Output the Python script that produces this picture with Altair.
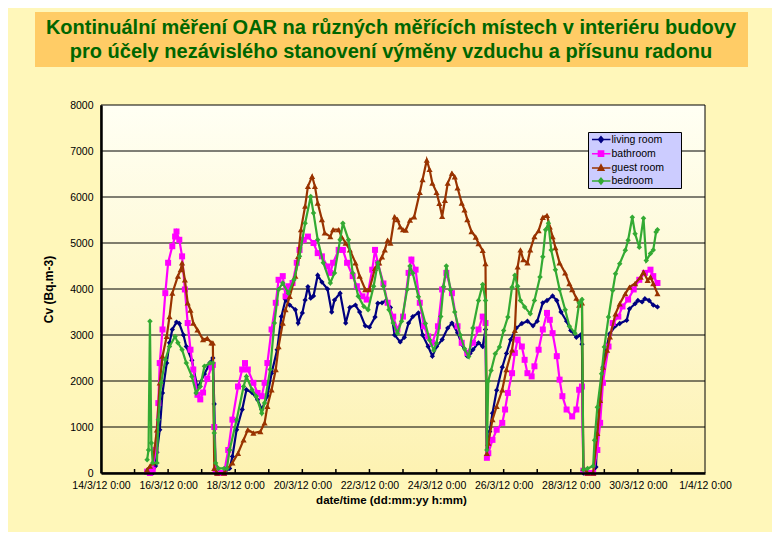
import altair as alt
import pandas as pd

# ---------------- data ----------------
series_names = ["living room", "bathroom", "guest room", "bedroom"]
series_colors = ["#000080", "#FF00FF", "#993300", "#33AA33"]
marker_shapes = ["diamond", "square", "triangle-up", "diamond"]
marker_sizes = [28, 36, 38, 30]

# (hours since 14/3/12 0:00, Cv in Bq.m-3)
living_room = [(33,50),(34,80),(35,0),(37,0),(39,150),(40,450),(42,940),(44,1740),(47,2390),(49,2830),(51,3120),(54,3280),(56,3250),(59,3000),(61,2750),(65,2450),(69,1850),(74,2150),(78,2400),(80,2500),(81,1500),(82,0),(84,0),(88,0),(92,100),(94,360),(97,940),(101,1380),(104,1810),(108,1750),(112,1590),(115,1380),(119,1670),(122,2170),(126,2680),(129,3400),(132,3770),(135,3650),(139,3550),(141,3260),(144,3480),(146,3760),(148,4050),(150,3800),(152,3850),(155,4300),(158,4150),(162,4000),(165,3500),(167,3760),(171,3910),(175,3260),(178,3600),(182,3650),(185,3500),(189,3200),(192,3170),(196,3390),(198,3690),(201,3700),(204,3750),(207,3600),(210,3000),(214,2850),(217,2950),(220,3260),(223,3400),(227,3480),(230,3000),(234,2750),(237,2540),(240,2750),(244,2900),(248,3150),(251,3260),(255,3050),(258,2800),(262,2540),(264,2600),(266,2680),(270,2830),(273,2750),(275,3120),(276,360),(278,900),(280,1300),(283,1800),(287,2300),(290,2600),(293,2900),(297,3150),(301,3250),(305,3300),(309,3200),(312,3300),(316,3700),(319,3750),(323,3850),(326,3750),(329,3500),(333,3300),(336,3100),(340,2950),(343,3000),(344,2800),(345,0),(348,0),(352,0),(354,130),(355,850),(357,1580),(359,2300),(361,2670),(364,3030),(368,3200),(371,3250),(376,3320),(378,3570),(382,3680),(384,3750),(387,3720),(389,3790),(392,3750),(395,3650),(398,3610)]

bathroom = [(33,30),(35,0),(37,70),(39,500),(41,1520),(42,2390),(44,3120),(46,3910),(48,4570),(51,4930),(53,5140),(54,5250),(56,5070),(58,4710),(60,3990),(62,3260),(64,2680),(66,2250),(69,1700),(71,1600),(73,1750),(76,2050),(79,2300),(80,2350),(81,1000),(82,50),(84,0),(88,0),(91,500),(94,1160),(98,1880),(101,2250),(103,2390),(105,2250),(109,1960),(112,1740),(115,1670),(117,1960),(119,2390),(122,3120),(125,3700),(127,4200),(130,4280),(132,3840),(134,4060),(137,4130),(140,4570),(142,4850),(145,5070),(148,5140),(152,5000),(155,4780),(158,4710),(162,4490),(164,4350),(166,4570),(170,4850),(173,4850),(176,4570),(180,4280),(183,4060),(187,3840),(190,3770),(194,4420),(196,4850),(198,4570),(202,4120),(205,3700),(209,3400),(212,3120),(216,3400),(220,4350),(222,4640),(225,4420),(228,3700),(231,3190),(234,2970),(237,2830),(241,3190),(244,3990),(247,4350),(251,3910),(255,3190),(258,2830),(262,2610),(266,2830),(270,3120),(273,3400),(275,3260),(276,330),(277,430),(280,720),(283,940),(287,1090),(289,1380),(291,1740),(294,2170),(296,2610),(298,2900),(301,2750),(303,2460),(305,2170),(308,2100),(310,2320),(313,2680),(316,3120),(319,3480),(321,3330),(323,3040),(326,2540),(328,2030),(330,1670),(333,1380),(337,1230),(340,1380),(342,1810),(344,1880),(345,50),(348,0),(352,0),(355,500),(357,1090),(359,1960),(363,2750),(366,3260),(370,3400),(373,3620),(377,3770),(381,3990),(385,4200),(389,4350),(393,4420),(395,4280),(398,4130)]

guest_room = [(33,70),(35,150),(37,220),(40,940),(42,1960),(44,2540),(47,2970),(49,3400),(51,3910),(55,4280),(57,4420),(58,4570),(60,4200),(62,3700),(64,3540),(66,3260),(69,3110),(73,2900),(76,2930),(79,2830),(80,2830),(81,100),(83,0),(88,0),(94,220),(98,430),(102,720),(105,940),(109,870),(114,900),(117,1090),(119,1450),(122,1810),(125,2250),(127,2750),(130,3260),(132,3550),(135,3840),(139,4280),(141,4710),(143,5290),(146,5800),(148,6230),(151,6450),(153,6230),(155,5870),(158,5510),(160,5220),(164,5140),(166,5290),(170,5290),(172,5140),(175,5000),(178,4850),(182,4570),(185,4280),(189,3990),(192,3990),(196,4450),(199,4570),(201,4700),(203,4850),(205,5060),(207,5000),(210,5570),(212,5510),(214,5350),(216,5290),(218,5280),(221,5500),(224,5570),(228,6100),(230,6380),(233,6800),(235,6600),(237,6300),(240,6100),(242,5860),(244,5580),(246,5930),(248,6300),(251,6520),(253,6440),(255,6200),(258,5870),(260,5720),(262,5510),(265,5250),(268,5130),(270,4990),(273,4840),(275,4550),(276,430),(277,650),(280,1160),(283,1450),(287,1810),(290,2250),(294,2680),(296,3100),(298,4480),(300,4850),(302,4640),(305,4570),(307,4850),(310,5140),(313,5270),(316,5560),(319,5600),(321,5350),(323,5140),(325,4900),(328,4570),(332,4350),(335,4120),(337,3990),(340,3800),(342,3650),(344,3700),(345,100),(348,0),(352,0),(355,860),(357,1580),(359,2300),(362,2670),(364,2960),(368,3460),(371,3680),(375,3900),(378,4040),(382,4120),(386,4260),(388,4370),(391,4190),(393,4260),(395,4120),(398,3900)]

bedroom = [(33,290),(34,500),(35,3300),(36,650),(37,220),(40,220),(41,1160),(43,1960),(46,2460),(49,2750),(53,2970),(55,2830),(58,2680),(61,2390),(65,2100),(68,1740),(71,1880),(74,2320),(78,2390),(80,2390),(81,870),(82,220),(84,100),(88,100),(90,100),(92,500),(97,1160),(102,1880),(104,2100),(108,1810),(111,1670),(115,1300),(117,1520),(121,2250),(124,3260),(127,3990),(130,4130),(134,3910),(138,4200),(142,4710),(146,5430),(150,6010),(152,5650),(155,5070),(159,4570),(164,4130),(167,4350),(171,5070),(173,5430),(177,5070),(180,4350),(184,3840),(188,3620),(191,3550),(195,4060),(198,4570),(202,4060),(206,3550),(209,3260),(212,3040),(215,3300),(219,3990),(221,4500),(223,4340),(227,3830),(232,3250),(235,2890),(238,2670),(240,2820),(243,3400),(245,4050),(247,4500),(250,3980),(253,3500),(257,3000),(260,2700),(263,2530),(266,3150),(270,3750),(273,4100),(275,3750),(276,500),(277,2000),(279,2230),(282,2590),(285,2740),(288,3100),(291,3390),(294,4040),(296,4300),(298,4060),(300,3750),(303,3610),(307,3460),(310,3750),(314,4260),(316,4700),(318,5290),(320,5430),(322,4850),(325,4420),(328,3990),(332,3550),(335,3190),(339,3040),(342,3700),(344,3770),(345,70),(348,100),(352,150),(353,710),(355,1430),(358,2160),(360,2740),(363,3390),(366,3970),(368,4330),(371,4550),(375,4840),(377,5060),(380,5560),(382,5200),(385,4910),(388,5540),(390,4620),(393,4770),(395,4850),(397,5240),(398,5290)]

series_data = [living_room, bathroom, guest_room, bedroom]

y_ticks = [0, 1000, 2000, 3000, 4000, 5000, 6000, 7000, 8000]
grid_values = [1000, 2000, 3000, 4000, 5000, 6000, 7000]
x_label_dates = ["2012-03-14", "2012-03-16", "2012-03-18", "2012-03-20", "2012-03-22",
                 "2012-03-24", "2012-03-26", "2012-03-28", "2012-03-30", "2012-04-01"]
day_tick_dates = ["2012-03-%02d" % d for d in range(15, 32)]
start_date = "2012-03-14"
end_date = "2012-04-01"

title_lines = ["Kontinuální měření OAR na různých měřících místech v interiéru budovy",
               "pro účely nezávislého stanovení výměny vzduchu a přísunu radonu"]
x_title = "date/time (dd:mm:yy h:mm)"
y_title = "Cv (Bq.m-3)"

# legend symbols: short line with marker
legend_paths = [
    "M-1.57,0L1.65,0M0,-0.5L0.42,0L0,0.5L-0.42,0Z",
    "M-1.57,0L1.65,0M-0.45,-0.45L0.45,-0.45L0.45,0.45L-0.45,0.45Z",
    "M-1.57,0L1.65,0M0,-0.55L0.5,0.4L-0.5,0.4Z",
    "M-1.57,0L1.65,0M0,-0.5L0.42,0L0,0.5L-0.42,0Z",
]

# ---------------- build table ----------------
base = pd.Timestamp(start_date)
rows = []
for name, pts in zip(series_names, series_data):
    for h, v in pts:
        rows.append({"series": name, "t": base + pd.Timedelta(hours=h), "v": v})
df = pd.DataFrame(rows)

FONT = "Liberation Sans, Arial, sans-serif"
TITLE_FONT = "Liberation Sans Narrow, Arial Narrow, Liberation Sans, sans-serif"
W, H = 604, 368


def dt(s):
    p = pd.Timestamp(s)
    return alt.DateTime(year=p.year, month=p.month, date=p.day)


xscale = alt.Scale(domain=[dt(start_date), dt(end_date)])
yscale = alt.Scale(domain=[0, 8000], nice=False)

X_AXIS = alt.Axis(values=[dt(s) for s in x_label_dates], format="%-d/%-m/%y %-H:%M",
                  labelFont=FONT, labelFontSize=10.5, labelColor="black", labelPadding=7,
                  labelFlush=False, labelOverlap=False, ticks=False, grid=False,
                  domainColor="black", domainWidth=2.5, title=x_title, titleFont=FONT,
                  titleFontSize=11.5, titleFontWeight="bold", titleColor="black",
                  titlePadding=4, titleX=290, zindex=1)
Y_AXIS = alt.Axis(values=y_ticks, format="d", labelFont=FONT, labelFontSize=10.5,
                  labelColor="black", labelPadding=8, labelFlush=False, ticks=False,
                  grid=False, domainColor="black", domainWidth=2.5, title=y_title,
                  titleFont=FONT, titleFontSize=12, titleFontWeight="bold",
                  titleColor="black", titlePadding=14, zindex=1)


def xenc():
    return alt.X("t:T", scale=xscale, axis=X_AXIS)


def yenc():
    return alt.Y("v:Q", scale=yscale, axis=Y_AXIS)


one = pd.DataFrame({"k": [0]})

# plot-area background with gradient and border
bg = alt.Chart(one).mark_rect(
    color=alt.Gradient(gradient="linear",
                       stops=[alt.GradientStop(color="#FFFFF4", offset=0),
                              alt.GradientStop(color="#FDF2B2", offset=1)],
                       x1=0, x2=0, y1=0, y2=1),
    stroke="black", strokeWidth=1,
).encode(x=alt.value(0), x2=alt.value(W), y=alt.value(0), y2=alt.value(H))

grid = alt.Chart(pd.DataFrame({"v": grid_values})).mark_rule(
    color="black", strokeWidth=1).encode(y=yenc())

day_ticks = alt.Chart(pd.DataFrame({"t": pd.to_datetime(day_tick_dates)})).mark_rule(
    color="black", strokeWidth=1.5).encode(x=xenc(), y=alt.value(H), y2=alt.value(H - 4))

layers = [bg, grid, day_ticks]
for name, col, shp, sz in zip(series_names, series_colors, marker_shapes, marker_sizes):
    d = df[df["series"] == name]
    layers.append(alt.Chart(d).mark_line(color=col, strokeWidth=2.2).encode(x=xenc(), y=yenc()))
    layers.append(alt.Chart(d).mark_point(shape=shp, filled=True, size=sz, color=col,
                                          opacity=1).encode(x=xenc(), y=yenc()))

LEG = alt.Legend(title=".", titleOrient="right", titleColor="transparent", titleFontSize=2,
                 titlePadding=15, orient="none", legendX=487, legendY=27, fillColor="#CCCCFF",
                 strokeColor="black", padding=1, labelFont=FONT, labelFontSize=10.5,
                 labelColor="black", symbolSize=132, symbolStrokeWidth=1.5, rowPadding=1.2,
                 labelOffset=4, symbolOffset=5.5, symbolOpacity=1)

legend_layer = alt.Chart(df).mark_point(opacity=0, filled=False).encode(
    x=xenc(), y=yenc(),
    stroke=alt.Stroke("series:N", scale=alt.Scale(domain=series_names, range=series_colors), legend=LEG),
    fill=alt.Fill("series:N", scale=alt.Scale(domain=series_names, range=series_colors), legend=LEG),
    shape=alt.Shape("series:N", scale=alt.Scale(domain=series_names, range=legend_paths), legend=LEG),
)
layers.append(legend_layer)

title_box = alt.Chart(one).mark_rect(color="#FFCC66").encode(
    x=alt.value(-66), x2=alt.value(647), y=alt.value(-93), y2=alt.value(-38))
title1 = alt.Chart(one).mark_text(font=TITLE_FONT, fontSize=20, fontWeight="bold",
                                  color="#006600", baseline="middle", align="center").encode(
    x=alt.value(290), y=alt.value(-77), text=alt.value(title_lines[0]))
title2 = alt.Chart(one).mark_text(font=TITLE_FONT, fontSize=20, fontWeight="bold",
                                  color="#006600", baseline="middle", align="center").encode(
    x=alt.value(290), y=alt.value(-53), text=alt.value(title_lines[1]))
layers += [title_box, title1, title2]

chart = alt.layer(*layers).properties(
    width=W, height=H,
    padding={"left": 93, "top": 97, "right": 67, "bottom": 59},
    autosize=alt.AutoSizeParams(type="none"),
    background="#FFF7BA",
).configure_view(stroke=None)

chart.save("out.html", embed_options={"renderer": "svg", "actions": False})
